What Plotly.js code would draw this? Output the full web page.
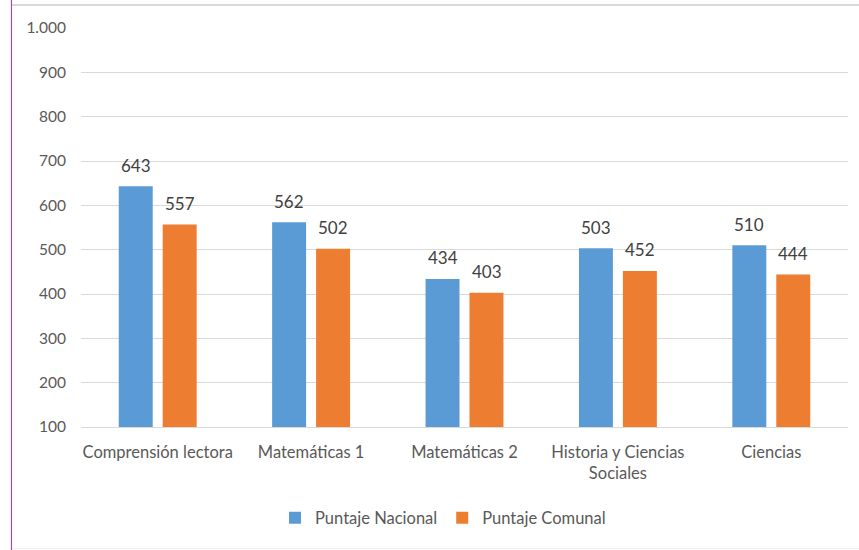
<!DOCTYPE html>
<html>
<head>
<meta charset="utf-8">
<script src="https://cdn.plot.ly/plotly-3.0.1.min.js"></script>
<style>
  html, body { margin: 0; padding: 0; background: #fff; }
  #wrap { position: relative; width: 859px; height: 550px; overflow: hidden; }
  #chart { position: absolute; left: 0; top: 0; width: 859px; height: 550px; }
  .frame-left { position: absolute; left: 11px; top: 0; width: 1px; height: 550px; background: #e020e0; }
  .frame-top { position: absolute; left: 12px; top: 4px; width: 847px; height: 2px; background: #d9d9d9; }
  .frame-bottom { position: absolute; left: 12px; top: 548px; width: 847px; height: 1px; background: #eeeeee; }
</style>
</head>
<body>
<div id="wrap">
  <div id="chart"></div>
  <div class="frame-left"></div>
  <div class="frame-top"></div>
  <div class="frame-bottom"></div>
</div>
<script>
const categories = ["Comprensión lectora", "Matemáticas 1", "Matemáticas 2", "Historia y Ciencias<br>Sociales", "Ciencias"];
const nacional = [643, 562, 434, 503, 510];
const comunal = [557, 502, 403, 452, 444];
const seriesNames = ["Puntaje Nacional", "Puntaje Comunal"];
const yTicks = [100, 200, 300, 400, 500, 600, 700, 800, 900, 1000];

const BLUE = "#5B9BD5";
const ORANGE = "#ED7D31";
const TEXT = "#595959";
const FONT = "Lato, 'Open Sans', sans-serif";

const traces = [
  { type: "bar", name: seriesNames[0], x: categories, y: nacional, marker: { color: BLUE }, hoverinfo: "skip" },
  { type: "bar", name: seriesNames[1], x: categories, y: comunal, marker: { color: ORANGE }, hoverinfo: "skip" }
];

const annotations = [];
[[nacional, -22], [comunal, 22]].forEach(([vals, dx]) => {
  vals.forEach((v, i) => {
    annotations.push({
      x: categories[i], y: v, xref: "x", yref: "y",
      text: String(v), showarrow: false,
      xshift: dx, yshift: 21, yanchor: "middle",
      font: { family: FONT, size: 17, color: "#404040" }
    });
  });
});

const layout = {
  width: 859, height: 550,
  margin: { l: 81, r: 11, t: 28, b: 123 },
  paper_bgcolor: "#ffffff", plot_bgcolor: "#ffffff",
  separators: ",.",
  barmode: "group",
  bargap: 0.427,
  bargroupgap: 0.227,
  font: { family: FONT, size: 16, color: TEXT },
  xaxis: {
    type: "category",
    showgrid: false, zeroline: false,
    showline: true, linecolor: "#d9d9d9", linewidth: 1,
    ticks: "", tickfont: { family: FONT, size: 16.5, color: TEXT },
    ticklabelstandoff: 10
  },
  yaxis: {
    range: [100, 1000],
    tickvals: yTicks,
    tickformat: ",",
    showgrid: true, gridcolor: "#d9d9d9", gridwidth: 1,
    zeroline: false, showline: false, ticks: "",
    tickfont: { family: FONT, size: 15.5, color: TEXT },
    ticklabelstandoff: 14
  },
  legend: {
    orientation: "h", x: 0.472, xanchor: "center", y: -0.228, yanchor: "middle",
    font: { family: FONT, size: 16.5, color: TEXT },
    itemwidth: 30, traceorder: "normal"
  },
  annotations: annotations,
  showlegend: true
};

Plotly.newPlot("chart", traces, layout, { staticPlot: true, displayModeBar: false });
</script>
</body>
</html>
